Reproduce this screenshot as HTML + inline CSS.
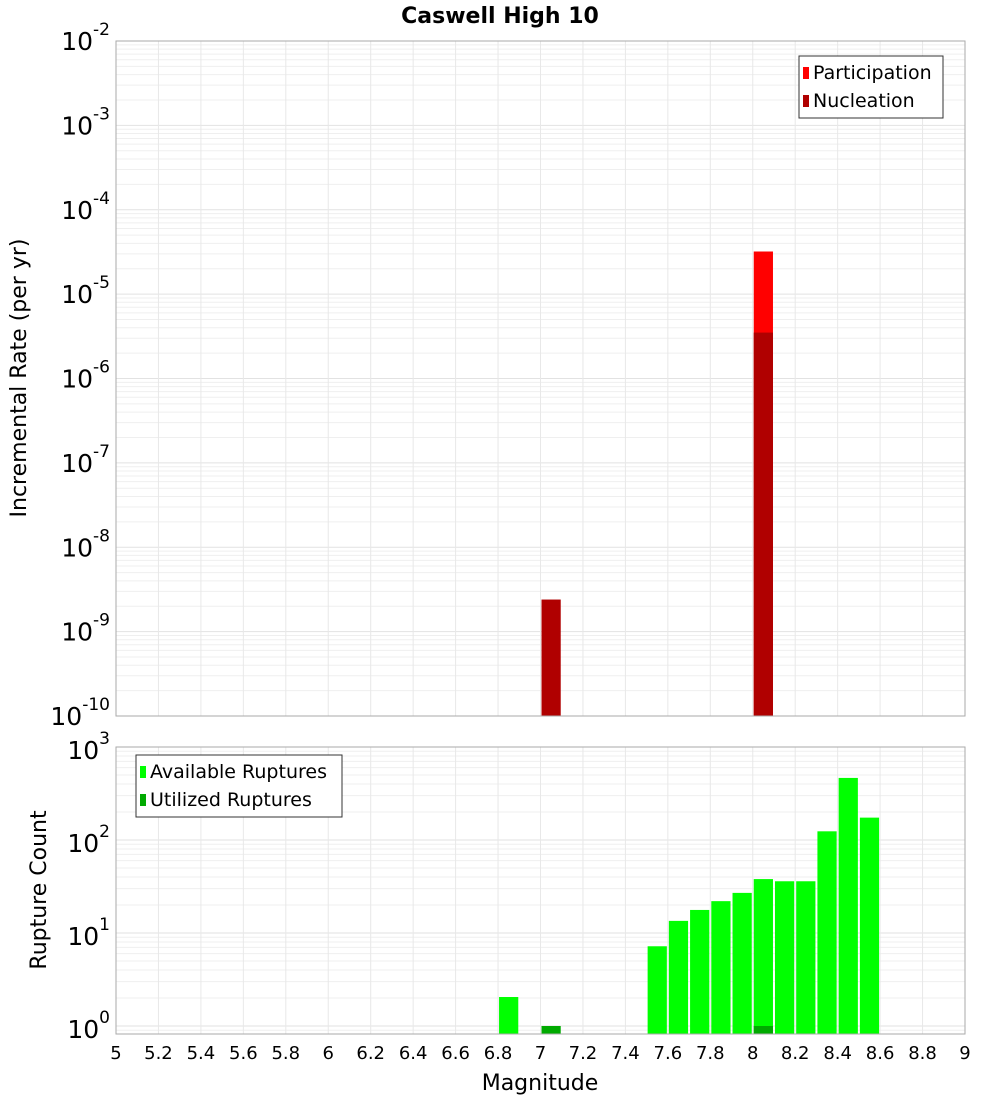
<!DOCTYPE html>
<html><head><meta charset="utf-8"><style>body{margin:0;background:#fff}svg{font-family:"DejaVu Sans","Liberation Sans",sans-serif}</style></head>
<body>
<svg id="c" width="1000" height="1100"></svg>
<script>
const magBins=[6.8,7.0,7.5,7.6,7.7,7.8,7.9,8.0,8.1,8.2,8.3,8.4,8.5];
const availCounts=[2.05,0,7.2,13.5,17.7,22,27,38,36,36,124,465,174];
const utilBins=[7.0,8.0];
const utilCounts=[1,1];
const partBins=[8.0];
const partRates=[3.2e-5];
const nuclBins=[7.0,8.0];
const nuclRates=[2.4e-9,3.5e-6];
const xTicks=[5,5.2,5.4,5.6,5.8,6,6.2,6.4,6.6,6.8,7,7.2,7.4,7.6,7.8,8,8.2,8.4,8.6,8.8,9];
const topExp=[-2,-3,-4,-5,-6,-7,-8,-9,-10];
const botExp=[3,2,1,0];

const NS='http://www.w3.org/2000/svg',svg=document.getElementById('c');
function el(t,a,p){const e=document.createElementNS(NS,t);for(const k in a)e.setAttribute(k,a[k]);(p||svg).appendChild(e);return e;}
const X0=116,X1=965;
const x=m=>X0+(m-5)/4*(X1-X0);
const yT=v=>41+(-2-Math.log10(v))*84.375;
const yB=v=>1026-Math.log10(v)*93;
function grid(y0,y1,yf,eMin,eMax){
  for(let e=eMin;e<eMax;e++)for(let k=1;k<10;k++){const yy=yf(k*Math.pow(10,e));if(yy>=y0&&yy<=y1){const l=el('line',{x1:X0,x2:X1,y1:yy,y2:yy,stroke:k==1?'#e2e2e2':'#efefef','stroke-width':1});}}
  xTicks.forEach(t=>{const l=el('line',{x1:x(t),x2:x(t),y1:y0,y2:y1,stroke:'#e8e8e8'});});
}
grid(41,716,yT,-10,-2);
grid(747,1034,yB,-1,3);
// top bars
function bar(m,top,bottom,fill,name){const r=el('rect',{x:x(m)+1,y:top,width:x(m+0.1)-x(m)-2,height:bottom-top,fill:fill});}
partBins.forEach((m,i)=>bar(m,yT(partRates[i]),716,'#ff0000','participation-bar'));
nuclBins.forEach((m,i)=>bar(m,yT(nuclRates[i]),716,'#b00000','nucleation-bar'));
magBins.forEach((m,i)=>{if(availCounts[i]>0)bar(m,yB(availCounts[i]),1034,'#00ff00','available-bar');});
utilBins.forEach((m,i)=>bar(m,yB(utilCounts[i]),1034,'#00aa00','utilized-bar'));
// frames
[[41,716,'top-plot-frame'],[747,1034,'bottom-plot-frame']].forEach(f=>{const r=el('rect',{x:X0,y:f[0],width:X1-X0,height:f[1]-f[0],fill:'none',stroke:'#aaa'});});
// y labels
function powLabel(yy,e,name){const t=el('text',{x:110,y:yy+12,'text-anchor':'end','font-size':25});t.appendChild(document.createTextNode('10'));const s=el('tspan',{dy:-15,'font-size':17},t);s.textContent=e;}
topExp.forEach(e=>powLabel(yT(Math.pow(10,e))-3,e,'y-tick-label'));
botExp.forEach(e=>powLabel(yB(Math.pow(10,e)),e,'y-tick-label'));
xTicks.forEach(t=>{const tx=el('text',{x:x(t),y:1059,'text-anchor':'middle','font-size':18});tx.textContent=String(t);});
function txt(s,a,name){const t=el('text',a);t.textContent=s;}
txt('Caswell High 10',{x:500,y:23,'text-anchor':'middle','font-size':22,'font-weight':'bold'},'chart-title');
txt('Magnitude',{x:540,y:1090,'text-anchor':'middle','font-size':22},'x-axis-title');
txt('Incremental Rate (per yr)',{x:26,y:378,'text-anchor':'middle','font-size':22,transform:'rotate(-90 26 378)'},'y-axis-title-top');
txt('Rupture Count',{x:46,y:890,'text-anchor':'middle','font-size':22,transform:'rotate(-90 46 890)'},'y-axis-title-bottom');
// legends
function legend(x0,y0,w,items,name){const g=el('g',{});el('rect',{x:x0,y:y0,width:w,height:62,fill:'#fff',stroke:'#333'},g);items.forEach((it,i)=>{el('rect',{x:x0+4,y:y0+11+i*28,width:6,height:12,fill:it[1]},g);const t=el('text',{x:x0+14,y:y0+23+i*28,'font-size':19},g);t.textContent=it[0];});}
legend(799,56,144,[['Participation','#ff0000'],['Nucleation','#b00000']],'legend-top');
legend(136,755,206,[['Available Ruptures','#00ff00'],['Utilized Ruptures','#00aa00']],'legend-bottom');
</script>
</body></html>
